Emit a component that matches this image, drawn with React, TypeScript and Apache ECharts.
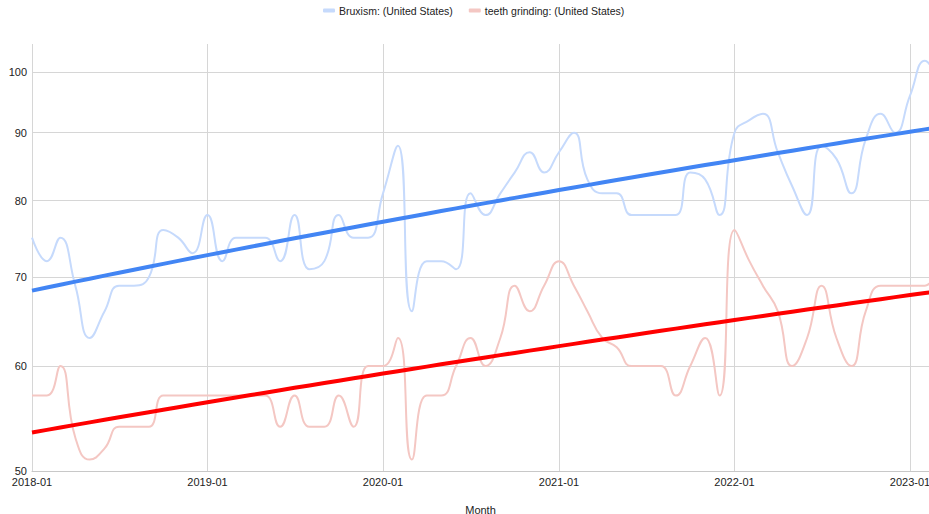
import React, { useEffect, useRef } from 'react';
import * as echarts from 'echarts';

const MONTHS = [
  '2018-01', '2018-02', '2018-03', '2018-04', '2018-05', '2018-06', '2018-07', '2018-08', '2018-09', '2018-10', '2018-11', '2018-12',
  '2019-01', '2019-02', '2019-03', '2019-04', '2019-05', '2019-06', '2019-07', '2019-08', '2019-09', '2019-10', '2019-11', '2019-12',
  '2020-01', '2020-02', '2020-03', '2020-04', '2020-05', '2020-06', '2020-07', '2020-08', '2020-09', '2020-10', '2020-11', '2020-12',
  '2021-01', '2021-02', '2021-03', '2021-04', '2021-05', '2021-06', '2021-07', '2021-08', '2021-09', '2021-10', '2021-11', '2021-12',
  '2022-01', '2022-02', '2022-03', '2022-04', '2022-05', '2022-06', '2022-07', '2022-08', '2022-09', '2022-10', '2022-11', '2022-12',
  '2023-01', '2023-02', '2023-03',
];

const BRUXISM = [
  75, 72, 75, 69, 63, 66, 69, 69, 70, 76, 75, 73,
  78, 72, 75, 75, 75, 72, 78, 71, 72, 78, 75, 75,
  81, 88, 66, 72, 72, 71, 81, 78, 81, 84, 87, 84,
  87, 90, 83, 81, 81, 78, 78, 78, 78, 84, 83, 78,
  90, 92, 93, 87, 82, 78, 88, 86, 81, 89, 93, 90,
  96, 102, 98,
];

const TEETH_GRINDING = [
  57, 57, 60, 53, 51, 52, 54, 54, 54, 57, 57, 57,
  57, 57, 57, 57, 57, 54, 57, 54, 54, 57, 54, 60,
  60, 63, 51, 57, 57, 60, 63, 60, 63, 69, 66, 69,
  72, 69, 66, 63, 62, 60, 60, 60, 57, 60, 63, 57,
  76, 72, 69, 66, 60, 63, 69, 63, 60, 66, 69, 69,
  69, 69, 72,
];

const SERIES_NAMES = ['Bruxism: (United States)', 'teeth grinding: (United States)'];
const Y_TICKS = [50, 60, 70, 80, 90, 100];
const Y_RANGE = [50, 105];
const X_TICKS = ['2018-01', '2019-01', '2020-01', '2021-01', '2022-01', '2023-01'];
const X_RANGE = ['2018-01-01T00:00:00', '2023-02-09T12:00:00'];

const FONT = 'Arial, "Liberation Sans", Helvetica, sans-serif';

const toTime = (m: string) => {
  const [y, mo] = m.split('-').map(Number);
  return new Date(y, mo - 1, 1).getTime();
};

const fmtMonth = (t: number) => {
  const d = new Date(t);
  const mm = String(d.getMonth() + 1).padStart(2, '0');
  return `${d.getFullYear()}-${mm}`;
};

// ordinary least-squares linear trend (as a spreadsheet "linear trendline")
function linearFit(xs: number[], ys: number[]) {
  const n = xs.length;
  const mx = xs.reduce((s, v) => s + v, 0) / n;
  const my = ys.reduce((s, v) => s + v, 0) / n;
  let sxy = 0;
  let sxx = 0;
  for (let i = 0; i < n; i++) {
    sxy += (xs[i] - mx) * (ys[i] - my);
    sxx += (xs[i] - mx) * (xs[i] - mx);
  }
  const b = sxy / sxx;
  return (x: number) => my + b * (x - mx);
}

export default function App() {
  const ref = useRef<HTMLDivElement>(null);

  useEffect(() => {
    document.body.style.margin = '0';
    const chart = echarts.init(ref.current!, null, { renderer: 'svg' });
    const lg = Math.log10;
    const xs = MONTHS.map(toTime);
    const xMin = new Date(X_RANGE[0]).getTime();
    const xMax = new Date(X_RANGE[1]).getTime();
    const xTickTimes = X_TICKS.map(toTime);
    const yTickLogs = Y_TICKS.map(lg);

    const trendB = linearFit(xs, BRUXISM);
    const trendT = linearFit(xs, TEETH_GRINDING);

    chart.setOption({
      animation: false,
      textStyle: { fontFamily: FONT },
      legend: {
        top: 5,
        left: 323,
        padding: 0,
        icon: 'roundRect',
        itemWidth: 12,
        itemHeight: 4,
        itemGap: 16,
        textStyle: { color: '#222', fontSize: 10.5, fontFamily: FONT, padding: [0, 0, 0, -1] },
        data: SERIES_NAMES,
      },
      grid: { left: 32, right: 0, top: 44, bottom: 43, containLabel: false, outerBoundsMode: 'none' },
      xAxis: {
        type: 'value',
        min: xMin,
        max: xMax,
        name: 'Month',
        nameLocation: 'middle',
        nameGap: 33,
        nameTextStyle: { color: '#222', fontSize: 11, fontFamily: FONT },
        axisLine: { show: true, lineStyle: { color: '#c8c8c8', width: 1 } },
        axisTick: { show: false, customValues: xTickTimes },
        axisLabel: {
          customValues: xTickTimes,
          formatter: (v: number) => fmtMonth(v),
          color: '#222',
          fontSize: 11,
          margin: 5,
          fontFamily: FONT,
        },
        splitLine: { show: true, lineStyle: { color: '#d6d6d6', width: 1 } },
      },
      yAxis: {
        type: 'value',
        min: lg(Y_RANGE[0]),
        max: lg(Y_RANGE[1]),
        axisLine: { show: false },
        axisTick: { show: false, customValues: yTickLogs },
        axisLabel: {
          customValues: yTickLogs,
          formatter: (v: number) => String(Math.round(Math.pow(10, v))),
          color: '#222',
          fontSize: 11,
          margin: 5,
          fontFamily: FONT,
        },
        splitLine: { show: true, lineStyle: { color: '#d6d6d6', width: 1 } },
      },
      series: [
        {
          name: SERIES_NAMES[0],
          type: 'line',
          smooth: 0.5,
          showSymbol: false,
          symbol: 'none',
          color: '#c6dafc',
          lineStyle: { color: '#c6dafc', width: 2 },
          data: xs.map((x, i) => [x, lg(BRUXISM[i])]),
          z: 2,
        },
        {
          name: SERIES_NAMES[1],
          type: 'line',
          smooth: 0.5,
          showSymbol: false,
          symbol: 'none',
          color: '#f4c7c3',
          lineStyle: { color: '#f4c7c3', width: 2 },
          data: xs.map((x, i) => [x, lg(TEETH_GRINDING[i])]),
          z: 2,
        },
        {
          name: 'Bruxism trend',
          type: 'line',
          showSymbol: false,
          symbol: 'none',
          color: '#4285f4',
          lineStyle: { color: '#4285f4', width: 4 },
          data: xs.map((x) => [x, lg(trendB(x))]),
          z: 3,
        },
        {
          name: 'teeth grinding trend',
          type: 'line',
          showSymbol: false,
          symbol: 'none',
          color: '#ff0000',
          lineStyle: { color: '#ff0000', width: 4 },
          data: xs.map((x) => [x, lg(trendT(x))]),
          z: 3,
        },
      ],
    });
    return () => chart.dispose();
  }, []);

  return <div ref={ref} style={{ width: 929, height: 514 }} />;
}
